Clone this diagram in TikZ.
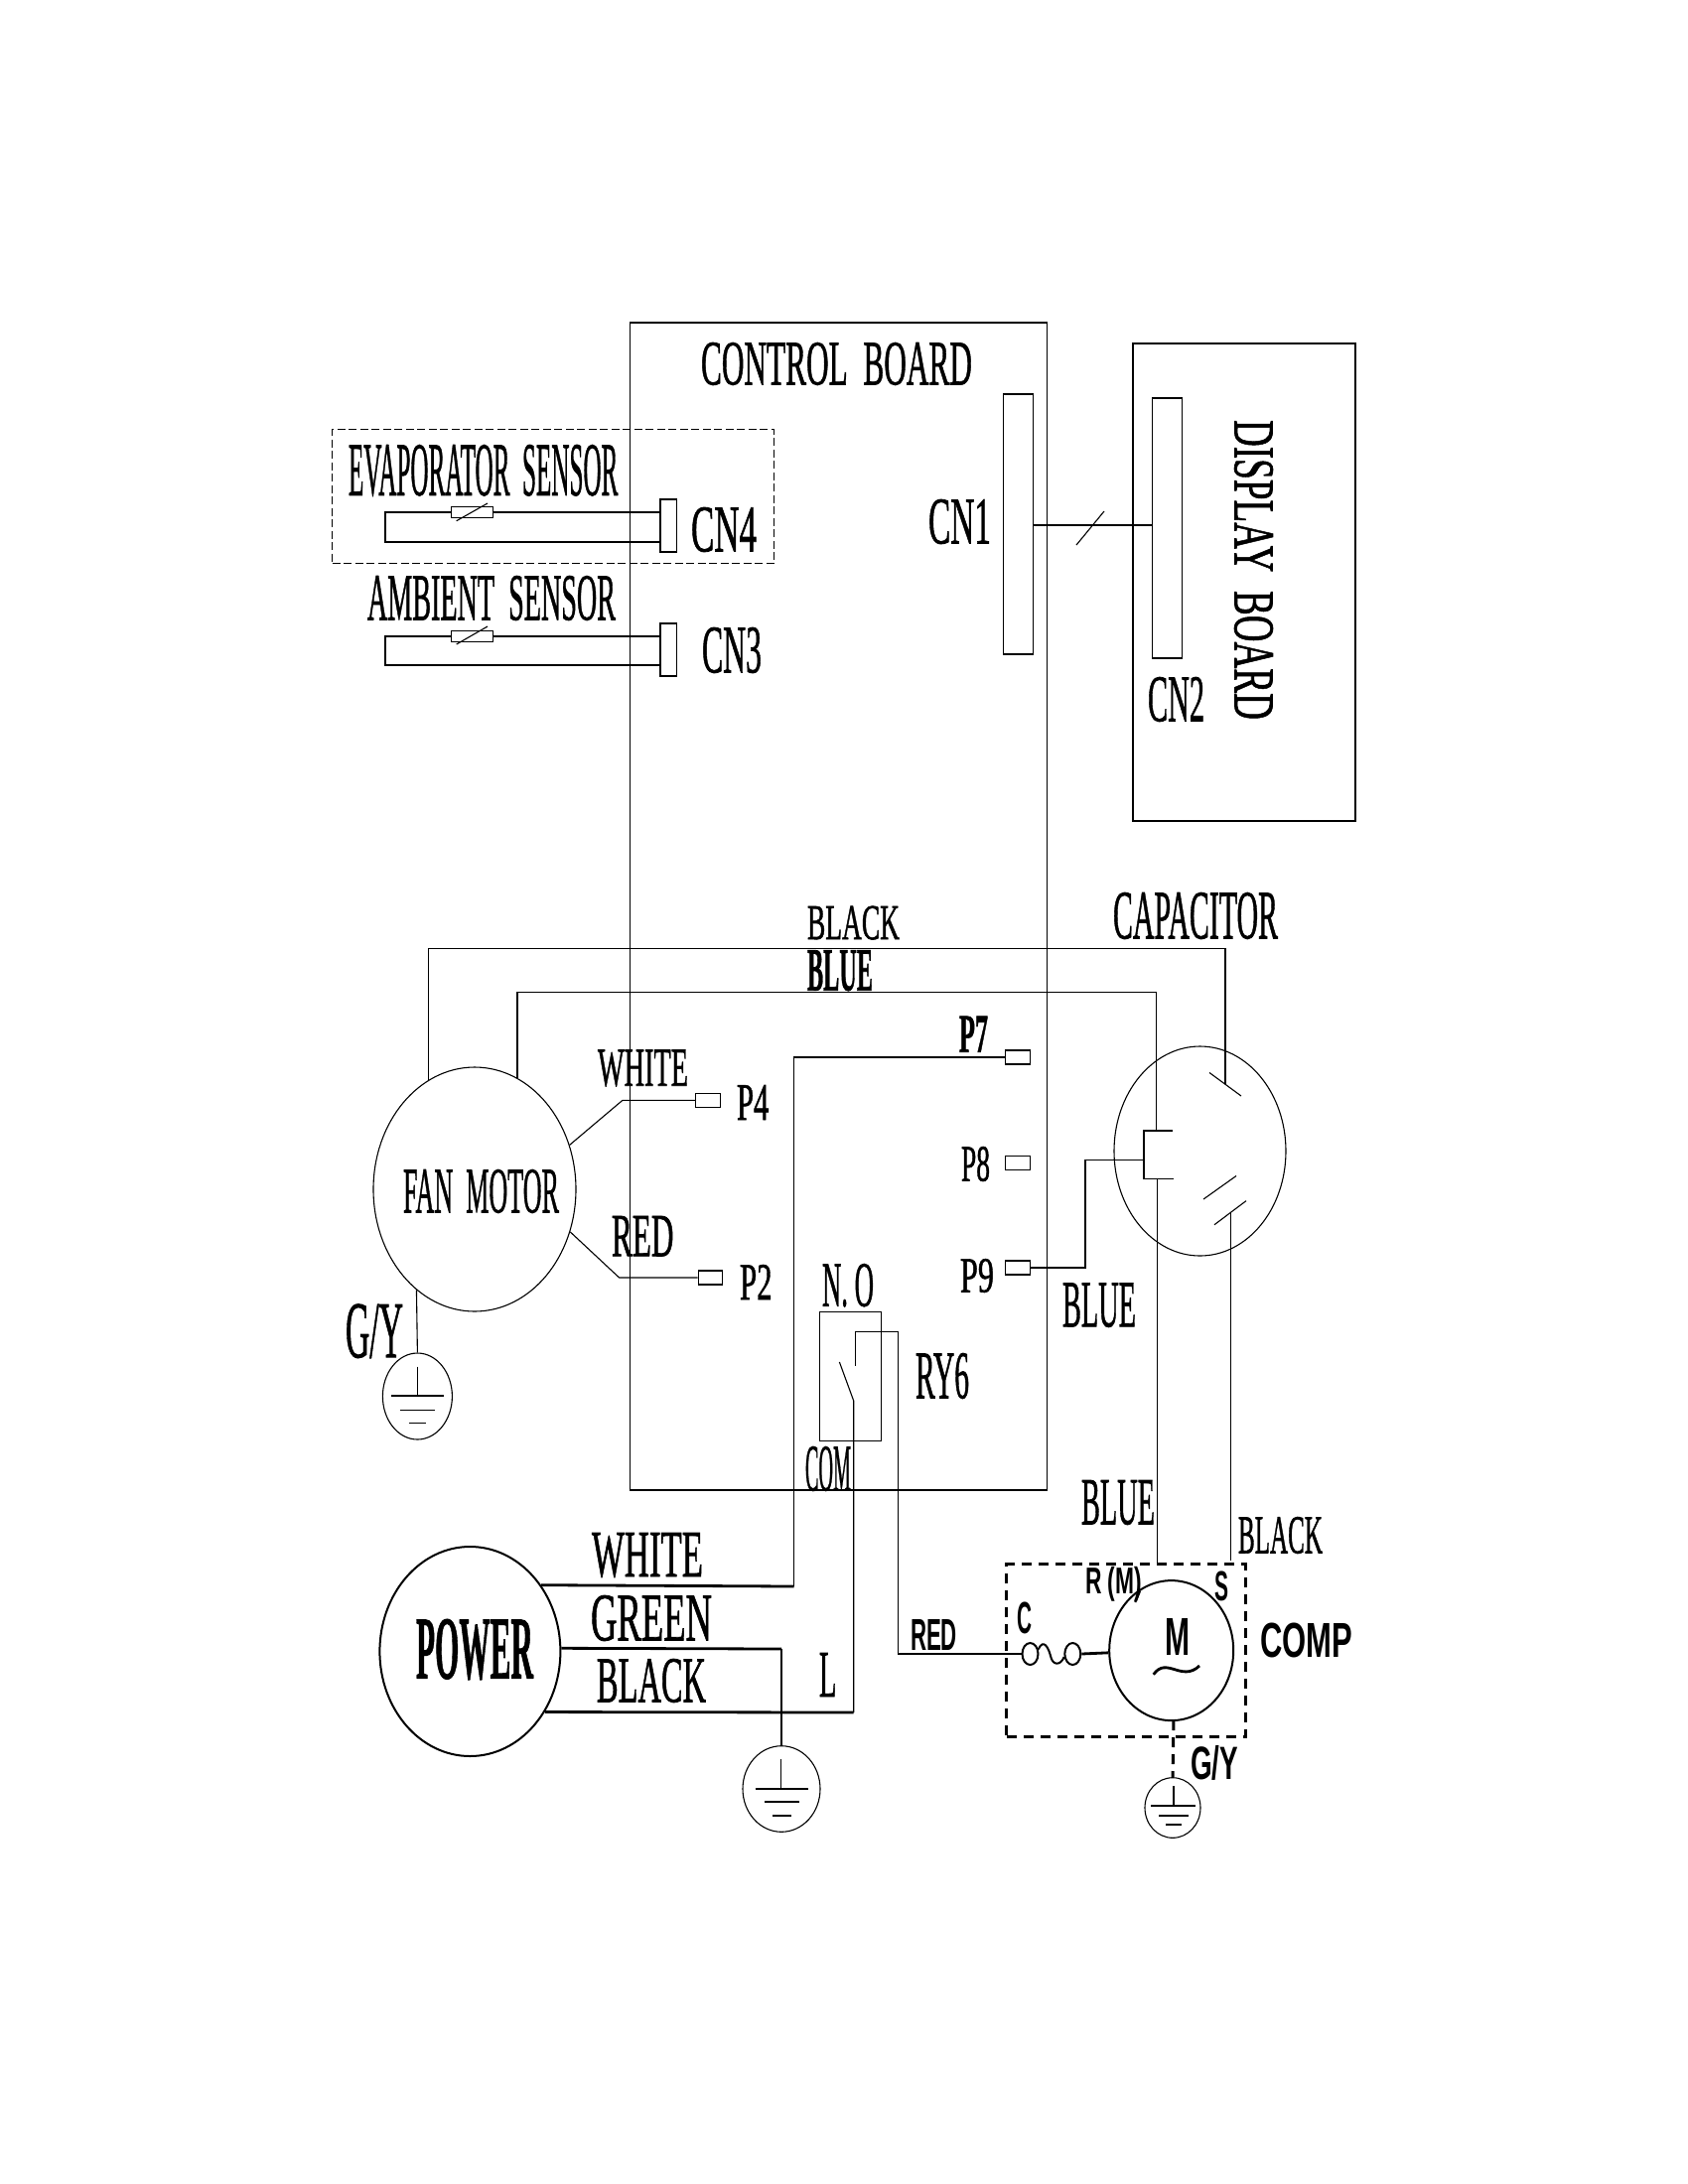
\documentclass[tikz,border=0pt]{standalone}
\usepackage{graphicx}
\usepackage{fontspec}
\setmainfont[FakeBold=1.2]{Liberation Serif}
\newfontfamily\sansfnt{Liberation Sans}
\usetikzlibrary{shapes.geometric}
\newcommand{\lab}[3]{\resizebox*{#1mm}{#2mm}{#3}}
\tikzset{
  box/.style={draw, inner sep=0},
  lbl/.style={inner sep=0},
  pinbox/.style={box, minimum width=2.45mm, minimum height=1.4mm},
  resbox/.style={box, minimum width=4.18mm, minimum height=1.1mm},
  ring/.style={draw, ellipse, inner sep=0},
  heavy/.style={line width=.28mm},
  medium/.style={line width=.2mm},
  compdash/.style={line width=.3mm, dash pattern=on 1mm off .7mm}
}
\begin{document}
\begin{tikzpicture}[x=.1mm, y=-.1mm, line width=.11mm]
\useasboundingbox (0,0) rectangle (1700,2200);

\node[box, minimum width=42mm, minimum height=117.6mm] (board) at (844.5,913) {};
\node[box, minimum width=22.4mm, minimum height=48.1mm] (display) at (1253,586.5) {};
\node[box, dash pattern=on .8mm off .35mm, minimum width=44.5mm, minimum height=13.5mm] (evapbox) at (557,500) {};
\node[box, minimum width=3.05mm, minimum height=26.2mm] (cnone) at (1025.5,528) {};
\node[box, minimum width=3.05mm, minimum height=26.2mm] (cntwo) at (1175.5,532) {};
\node[box, minimum width=1.66mm, minimum height=5.3mm] (cnfour) at (673.3,529.5) {};
\node[box, minimum width=1.66mm, minimum height=5.3mm] (cnthree) at (673.3,654.5) {};
\node[resbox] (evapres) at (475.5,516) {};
\node[resbox] (ambres) at (475.5,641) {};

\coordinate (cnonep) at (1041,529);
\coordinate (cntwop) at (1160,529);
\coordinate (evapa) at (665,516);
\coordinate (evapb) at (665,546);
\coordinate (evaptl) at (388,516);
\coordinate (evapbl) at (388,546);
\coordinate (amba) at (665,641);
\coordinate (ambb) at (665,670);
\coordinate (ambtl) at (388,641);
\coordinate (ambbl) at (388,670);

\draw (cnonep) -- (cntwop);
\draw (1084,549) -- (1112,515);
\draw (evapa) -- (evapres.east);
\draw (evapres.west) -- (evaptl) -- (evapbl) -- (evapb);
\draw (amba) -- (ambres.east);
\draw (ambres.west) -- (ambtl) -- (ambbl) -- (ambb);
\draw (459.7,524.7) -- (491,507);
\draw (459.7,649) -- (491,631);

\node[ring, minimum width=20.4mm, minimum height=24.6mm] (fan) at (478,1198) {};
\node[ring, minimum width=17.3mm, minimum height=21.1mm] (cap) at (1208.5,1159.5) {};
\node[ring, medium, minimum width=18.2mm, minimum height=21.1mm] (power) at (473.4,1663.5) {};
\node[ring, medium, minimum width=12.5mm, minimum height=14.1mm] (motor) at (1179.7,1662.6) {};
\node[ring, minimum width=7mm, minimum height=8.7mm] (earthfan) at (420.4,1406.5) {};
\node[ring, minimum width=7.8mm, minimum height=8.66mm] (earthmain) at (787,1802) {};
\node[ring, minimum width=5.6mm, minimum height=6.06mm] (earthcomp) at (1181,1821) {};
\node[box, compdash, minimum width=24.03mm, minimum height=17.33mm] (compbox) at (1133.9,1662.6) {};
\node[box, minimum width=6.24mm, minimum height=13.05mm] (relay) at (856.7,1386.3) {};
\node[ring, medium, minimum width=1.6mm, minimum height=2.2mm] (fusea) at (1037.5,1666) {};
\node[ring, medium, minimum width=1.6mm, minimum height=2.2mm] (fuseb) at (1080.3,1666) {};

\node[pinbox] (pseven) at (1024.8,1065) {};
\node[pinbox] (peight) at (1024.8,1171.5) {};
\node[pinbox] (pnine) at (1024.8,1277) {};
\node[pinbox] (pfour) at (712.8,1108.3) {};
\node[pinbox] (ptwo) at (715.5,1287) {};

\coordinate (blacktop) at (1234,955.5);
\coordinate (capatop) at (1234,1092);
\coordinate (bluetop) at (1164.5,999.5);
\coordinate (brktop) at (1164.5,1139);
\coordinate (whitebend) at (627,1108.3);
\coordinate (redbend) at (623.6,1287);
\coordinate (ninetop) at (1093,1168.6);
\coordinate (brkmid) at (1152,1168.6);
\coordinate (brkbot) at (1165.5,1187.5);
\coordinate (compblue) at (1165.5,1576);
\coordinate (capbot) at (1239.5,1222);
\coordinate (compblack) at (1239.5,1572);
\coordinate (whitejoin) at (799.6,1598);
\coordinate (greenjoin) at (787,1661);
\coordinate (blackjoin) at (859.7,1725);
\coordinate (blade) at (859.7,1411);
\coordinate (bladetip) at (845.4,1372);
\coordinate (contact) at (861.5,1375.7);
\coordinate (relaytop) at (904.4,1341.3);
\coordinate (motorlead) at (1182,1733);

\draw (fan.113) |- (blacktop) -- (capatop);
\draw (fan.69) |- (bluetop) -- (brktop);
\draw (fan.25) -- (whitebend) -- (pfour.west);
\draw (fan.-24) -- (redbend) -- (ptwo.west);
\draw (fan.240) -- (earthfan.north);
\draw (pseven.west) -| (whitejoin);
\draw (pnine.east) -| (ninetop) -- (brkmid);
\draw (brkbot) -- (compblue);
\draw (capbot) -- (compblack);
\draw[heavy] (power.43) -- (whitejoin);
\draw[heavy] (power.2) -- (greenjoin);
\draw (greenjoin) -- (earthmain.north);
\draw[heavy] (power.-39) -- (blackjoin);
\draw (blackjoin) -- (blade) -- (bladetip);
\draw (contact) |- (relaytop) |- (fusea.west);
\draw[heavy] (fuseb.east) -- (motor.182);
\draw[compdash] (motorlead) -- (earthcomp.north);

\draw (1218,1080.5) -- (1250,1104);
\draw (1181,1139) -- (1152,1139) -- (1152,1187.5) -- (1181.7,1187.5);
\draw (1212,1208) -- (1245,1184.5);
\draw (1223,1233.7) -- (1255,1209.6);
\draw[medium] (fusea.30) .. controls (1051,1650) and (1056,1660) .. (1058,1668) .. controls (1060,1678) and (1068,1678) .. (fuseb.200);
\draw[heavy] (1161.7,1686.7) .. controls (1175,1668) and (1190,1695) .. (1208,1678);
\draw[medium] (1143.3,1614) -- (1148,1603);

\draw (420.4,1376.5) -- (420.4,1406);
\draw (394,1406) -- (447,1406);
\draw (402.6,1420.5) -- (438.3,1420.5);
\draw (411.5,1433.5) -- (429,1433.5);
\draw (786.3,1772) -- (786.3,1802);
\draw (760.6,1802) -- (814,1802);
\draw (770,1815) -- (805.4,1815);
\draw (778,1829) -- (797,1829);
\draw (1182,1799) -- (1182,1819);
\draw (1159,1819) -- (1204,1819);
\draw (1167,1829) -- (1197,1829);
\draw (1174,1838) -- (1190,1838);

\node[lbl] (lblcontrol) at (842.5,366.5) {\lab{27.3}{4.3}{CONTROL~~BOARD}};
\node[lbl] (lblevap) at (486.7,474) {\lab{27.14}{5.2}{EVAPORATOR~~SENSOR}};
\node[lbl] (lblamb) at (495,602.5) {\lab{25}{4.5}{AMBIENT~~SENSOR}};
\node[lbl] (lblcnfour) at (729,533.5) {\lab{6.6}{4.5}{CN4}};
\node[lbl] (lblcnone) at (966.5,525.5) {\lab{6.3}{4.5}{CN1}};
\node[lbl] (lblcnthree) at (737,655) {\lab{6}{4.6}{CN3}};
\node[lbl] (lblcntwo) at (1184.5,704.5) {\lab{5.7}{4.5}{CN2}};
\node[lbl, rotate=-90] (lbldisplay) at (1262.5,574) {\lab{30.2}{3.9}{DISPLAY~~BOARD}};

\node[lbl] (lblblack) at (859.5,929.6) {\lab{9.3}{3.4}{BLACK}};
\node[lbl] (lblblue) at (846,977.7) {\lab{6.6}{4.1}{\bfseries BLUE}};
\node[lbl] (lblcap) at (1204,922.5) {\lab{16.6}{4.7}{CAPACITOR}};
\node[lbl] (lblpseven) at (980.5,1041.7) {\lab{2.9}{3.6}{\bfseries P7}};
\node[lbl] (lblpeight) at (982.5,1172.5) {\lab{2.9}{3.5}{P8}};
\node[lbl] (lblpnine) at (984,1285) {\lab{3.4}{3.4}{P9}};
\node[lbl] (lblpfour) at (758.2,1110.5) {\lab{3.25}{3.5}{P4}};
\node[lbl] (lblptwo) at (761.3,1291.5) {\lab{3.26}{3.5}{P2}};
\node[lbl] (lblwhite) at (647.5,1076) {\lab{9.1}{3.7}{WHITE}};
\node[lbl] (lblred) at (647.2,1245.2) {\lab{6.25}{4.05}{RED}};
\node[lbl] (lblfan) at (484.5,1200) {\lab{15.7}{4.4}{FAN~~MOTOR}};
\node[lbl] (lblgy) at (377,1340.8) {\lab{5.8}{5.44}{G/Y}};
\node[lbl] (lblno) at (854,1294.8) {\lab{5.2}{4.36}{N.~O}};
\node[lbl] (lblry) at (949,1386) {\lab{5.4}{4.6}{RY6}};
\node[lbl] (lblcom) at (834,1479.5) {\lab{4.6}{4.5}{COM}};
\node[lbl] (lblblueb) at (1107,1314.7) {\lab{7.4}{4.45}{BLUE}};

\node[lbl] (lblpower) at (478,1661.5) {\lab{11.8}{6.1}{\bfseries POWER}};
\node[lbl] (lblwhiteb) at (652,1566.5) {\lab{11.2}{4.5}{WHITE}};
\node[lbl] (lblgreen) at (656,1630) {\lab{12.2}{4.6}{GREEN}};
\node[lbl] (lblblackb) at (656,1693) {\lab{11}{4.4}{BLACK}};
\node[lbl] (lblL) at (833.7,1687) {\lab{1.75}{4.4}{L}};

\node[lbl] (lblbluec) at (1126,1513.5) {\lab{7.4}{4.5}{BLUE}};
\node[lbl] (lblblackc) at (1289.5,1546.5) {\lab{8.5}{3.7}{BLACK}};
\node[lbl] (lblredb) at (940.5,1646.5) {\lab{4.7}{3.1}{\sansfnt\bfseries RED}};
\node[lbl] (lblrm) at (1121.5,1595.5) {\lab{5.7}{3.5}{\sansfnt\bfseries R (M)}};
\node[lbl] (lbls) at (1230,1598) {\lab{1.4}{3}{\sansfnt\bfseries S}};
\node[lbl] (lblc) at (1031.5,1630) {\lab{1.5}{3.2}{\sansfnt\bfseries C}};
\node[lbl] (lblm) at (1185.5,1648.5) {\lab{2.5}{3.7}{\sansfnt\bfseries M}};
\node[lbl] (lblcomp) at (1315.5,1652.5) {\lab{9.3}{3.5}{\sansfnt\bfseries COMP}};
\node[lbl] (lblgyb) at (1223,1775.5) {\lab{4.8}{3.5}{\sansfnt\bfseries G/Y}};

\end{tikzpicture}
\end{document}
